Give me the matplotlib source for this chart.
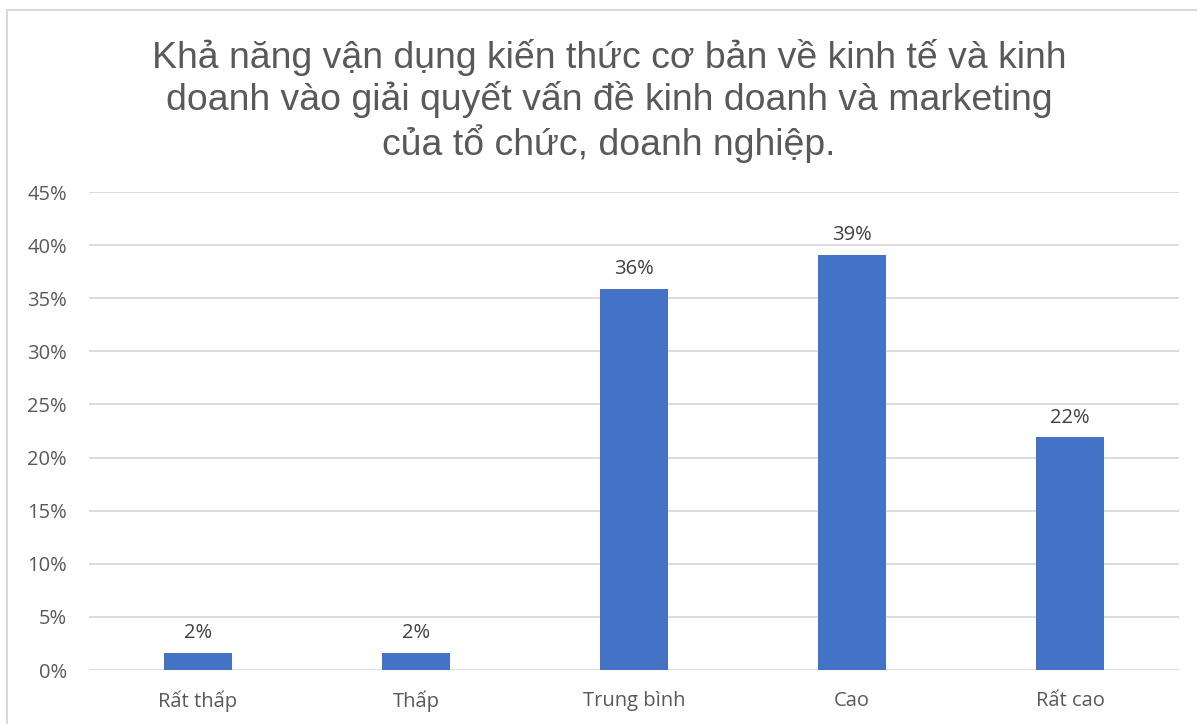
import matplotlib
matplotlib.use("Agg")
import matplotlib.pyplot as plt
from matplotlib.patches import Rectangle

categories = ["Rất thấp", "Thấp", "Trung bình", "Cao", "Rất cao"]
values = [1.6, 1.6, 35.9, 39.1, 21.9]
labels = ["2%", "2%", "36%", "39%", "22%"]
title = "Khả năng vận dụng kiến thức cơ bản về kinh tế và kinh\ndoanh vào giải quyết vấn đề kinh doanh và marketing\ncủa tổ chức, doanh nghiệp."

W, H = 1197, 724
fig = plt.figure(figsize=(W / 100, H / 100), dpi=100)
fig.patch.set_facecolor("white")
fig.patches.append(Rectangle((7 / W, -0.1), 1.2, 1 - 10 / H + 0.1, transform=fig.transFigure,
                             fill=False, edgecolor="#D9D9D9", linewidth=1.5))

ax = fig.add_axes([89 / W, 1 - 670 / H, (1179 - 89) / W, (670 - 192) / H])
x = list(range(len(categories)))
ax.bar(x, values, width=0.31, color="#4472C4", zorder=3)
ax.set_xlim(-0.5, len(categories) - 0.5)
ax.set_ylim(0, 45)
ax.grid(axis="y", color="#D9D9D9", linewidth=1.3, zorder=0)
for s in ax.spines.values():
    s.set_visible(False)
ax.tick_params(axis="both", length=0, labelsize=14.5, labelcolor="#595959")
ax.tick_params(axis="y", pad=16)
ax.tick_params(axis="x", pad=15)
ax.set_xticks(x)
ax.set_xticklabels(categories, fontfamily="Open Sans")
ax.set_yticks(range(0, 50, 5))
ax.set_yticklabels([f"{v}%" for v in range(0, 50, 5)], fontfamily="Open Sans")

for xi, v, lab in zip(x, values, labels):
    ax.annotate(lab, (xi, v), xytext=(0, 7), textcoords="offset points", ha="center", va="bottom",
                fontsize=14.5, color="#404040", fontfamily="Open Sans")

fig.text(609 / W, 1 - 101 / H, title, ha="center", va="center",
         fontsize=26.9, color="#595959", fontfamily="Liberation Sans", linespacing=1.2)

fig.savefig("out.png", dpi=100)
